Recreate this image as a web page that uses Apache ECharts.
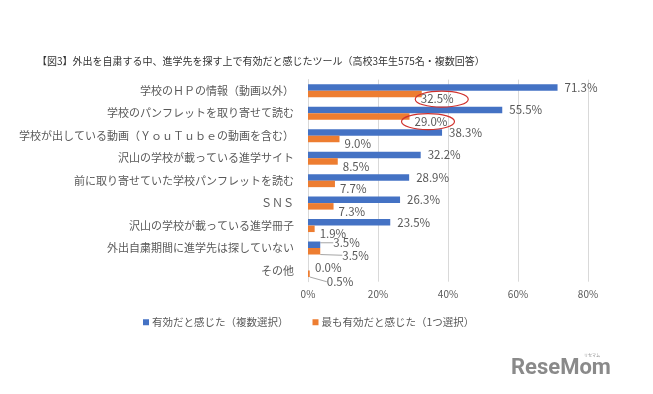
<!DOCTYPE html>
<html>
<head>
<meta charset="utf-8">
<script src="https://cdn.jsdelivr.net/npm/echarts@6/dist/echarts.min.js"></script>
<style>
html,body{margin:0;padding:0;background:#fff;}
#chart{width:653px;height:394px;}
</style>
</head>
<body>
<div id="chart"></div>
<script>
const titleText = '【図3】外出を自粛する中、進学先を探す上で有効だと感じたツール（高校3年生575名・複数回答）';
const categories = [
  '学校のＨＰの情報（動画以外）',
  '学校のパンフレットを取り寄せて読む',
  '学校が出している動画（ＹｏｕＴｕｂｅの動画を含む）',
  '沢山の学校が載っている進学サイト',
  '前に取り寄せていた学校パンフレットを読む',
  'ＳＮＳ',
  '沢山の学校が載っている進学冊子',
  '外出自粛期間に進学先は探していない',
  'その他'
];
const seriesNames = ['有効だと感じた（複数選択）', '最も有効だと感じた（1つ選択）'];
const multiValues = [71.3, 55.5, 38.3, 32.2, 28.9, 26.3, 23.5, 3.5, 0.0];
const bestValues  = [32.5, 29.0, 9.0, 8.5, 7.7, 7.3, 1.9, 3.5, 0.5];
const xTicks = [0, 20, 40, 60, 80];
const circled = [0, 1]; // indices of highlighted orange labels

const FONT = '"Noto Sans CJK JP", "Noto Sans", sans-serif';
const GRAY = '#595959';

// label adjustments (styling only)
const blueMoves = {7: [6, -2]};
const blueLines = {7: true};
const orangeDefault = [0, 5];
const orangeMoves = {0: [-6, 5], 7: [17, 4], 8: [12, 8]};
const orangeLines = {7: true, 8: true};

function buildData(vals, lines) {
  return vals.map((v, i) => {
    const item = {value: v};
    if (lines[i]) item.labelLine = {show: true};
    return item;
  });
}

const chart = echarts.init(document.getElementById('chart'), null, {renderer: 'canvas'});
const option = {
  animation: false,
  backgroundColor: '#fff',
  textStyle: {fontFamily: FONT},
  title: {
    text: titleText,
    left: 32, top: 51,
    textStyle: {fontSize: 10, fontWeight: 'normal', color: '#333', fontFamily: FONT}
  },
  legend: {
    left: 138, top: 312,
    itemWidth: 6, itemHeight: 6, itemGap: 24,
    icon: 'rect',
    textStyle: {fontSize: 10.5, color: GRAY, fontFamily: FONT, padding: [0, 0, 0, -2]},
    data: seriesNames
  },
  grid: {left: 308, right: 65, top: 79.6, bottom: 112.3, containLabel: false},
  xAxis: {
    type: 'value', min: xTicks[0], max: xTicks[xTicks.length - 1], interval: 20,
    axisLabel: {formatter: '{value}%', color: GRAY, fontSize: 10, margin: 8, fontFamily: FONT},
    axisLine: {show: false}, axisTick: {show: false},
    splitLine: {lineStyle: {color: '#d9d9d9', width: 1}}
  },
  yAxis: {
    type: 'category', inverse: true, data: categories,
    axisLabel: {color: GRAY, fontSize: 11, margin: 14, fontFamily: FONT},
    axisLine: {show: true, lineStyle: {color: '#d9d9d9'}},
    axisTick: {show: false}
  },
  series: [
    {
      name: seriesNames[0], type: 'bar', barWidth: 6.5, barGap: '0%',
      itemStyle: {color: '#4472C4'},
      label: {show: true, position: 'right', distance: 7, color: GRAY, fontSize: 11.5, fontFamily: FONT,
        formatter: p => p.value.toFixed(1) + '%'},
      labelLine: {show: false, lineStyle: {color: '#a6a6a6', width: 1}},
      labelLayout: p => { const m = blueMoves[p.dataIndex] || [0, 0]; return {dx: m[0], dy: m[1]}; },
      data: buildData(multiValues, blueLines)
    },
    {
      name: seriesNames[1], type: 'bar', barWidth: 6.5, barGap: '0%',
      itemStyle: {color: '#ED7D31'},
      label: {show: true, position: 'right', distance: 5, color: GRAY, fontSize: 11.5, fontFamily: FONT,
        formatter: p => p.value.toFixed(1) + '%'},
      labelLine: {show: false, lineStyle: {color: '#a6a6a6', width: 1}},
      labelLayout: p => { const m = orangeMoves[p.dataIndex] || orangeDefault; return {dx: m[0], dy: m[1]}; },
      data: buildData(bestValues, orangeLines)
    }
  ]
};
chart.setOption(option);

// annotation ellipses around highlighted labels, positioned from the data
const graphics = circled.map(i => {
  const pt = chart.convertToPixel({gridIndex: 0}, [bestValues[i], categories[i]]);
  return {
    type: 'ellipse',
    shape: {cx: pt[0] + (i === 0 ? 20 : 18.5), cy: pt[1] + 8.3, rx: 26.5, ry: 8},
    style: {fill: 'none', stroke: '#d0312d', lineWidth: 1.2},
    z: 100
  };
});
graphics.push({
  type: 'text', left: 511, top: 357, z: 100,
  style: {text: 'ReseMom', fill: '#8a8a8a', font: 'bold 22px "Roboto", "Liberation Sans", sans-serif'}
});
graphics.push({
  type: 'text', left: 584, top: 353, z: 100,
  style: {text: 'リセマム', fill: '#8a8a8a', font: '4px "Noto Sans CJK JP", sans-serif'}
});
chart.setOption({graphic: graphics});
</script>
</body>
</html>
